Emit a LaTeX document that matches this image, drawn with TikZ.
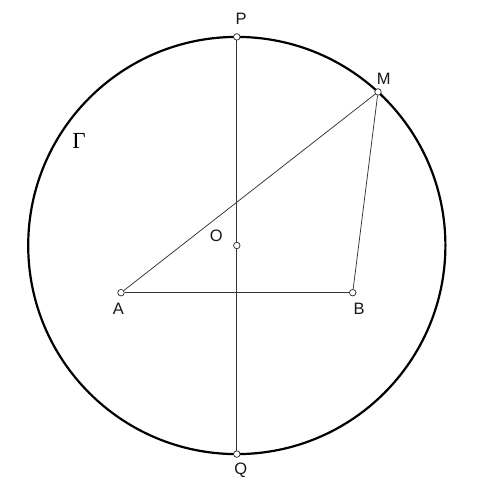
\documentclass[tikz,border=0pt]{standalone}
\usepackage{fontspec}
\setmainfont{Liberation Sans}
\newfontfamily\greekserif{Liberation Serif}
\begin{document}
\begin{tikzpicture}[x=1pt,y=-1pt,
  pt/.style={circle,draw=black!85,fill=white,line width=0.7pt,inner sep=0pt,minimum size=6.5pt},
  seg/.style={draw=black!80,line width=0.75pt},
  lab/.style={inner sep=0pt,font=\fontsize{16.5}{17}\selectfont,text=black!90}]
\useasboundingbox (0,0) rectangle (477,500);
\fill[white] (0,0) rectangle (477,500);
\coordinate (Oc) at (236.8,245.5);
\draw[line width=2.2pt,black] (Oc) circle[radius=208.6];
\node[pt] (P) at (236.8,36.9) {};
\node[pt] (Q) at (236.8,454.1) {};
\node[pt] (O) at (236.8,245.5) {};
\node[pt] (M) at (378.0,91.9) {};
\node[pt] (A) at (121,292.7) {};
\node[pt] (B) at (352.7,292.7) {};
\draw[seg] (P) -- (O);
\draw[seg] (O) -- (Q);
\draw[seg] (A) -- (B);
\draw[seg] (A) -- (M);
\draw[seg] (M) -- (B);
\node[lab] (lP) at (241,18.7) {P};
\node[lab] (lM) at (383.7,78.8) {M};
\node[lab] (lO) at (216.3,236.3) {O};
\node[lab] (lA) at (118.3,308.5) {A};
\node[lab] (lB) at (359,308.5) {B};
\node[lab,anchor=north] (lQ) at (240.8,463) {Q};
\node[inner sep=0pt,font=\greekserif\fontsize{23}{24}\selectfont] (lG) at (79,140.7) {Γ};
\end{tikzpicture}
\end{document}
